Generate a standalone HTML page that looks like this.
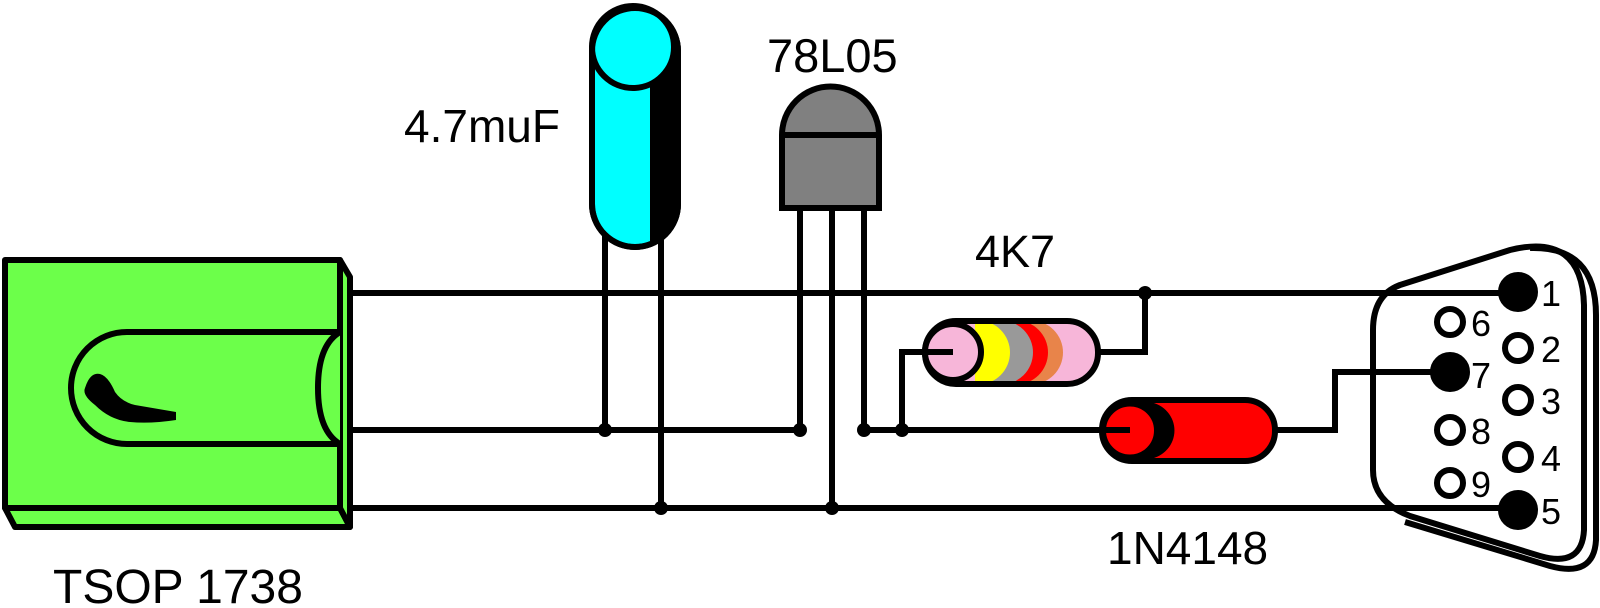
<!DOCTYPE html>
<html><head><meta charset="utf-8"><style>
html,body{margin:0;padding:0;background:#fff;}
svg{display:block;}
text{font-family:"Liberation Sans",Arial,sans-serif;fill:#000;}
</style></head><body>
<svg width="1600" height="608" viewBox="0 0 1600 608" xmlns="http://www.w3.org/2000/svg">
<defs>
<clipPath id="rclip"><rect x="925" y="321" width="173" height="63" rx="31" ry="31"/></clipPath>
</defs>
<g stroke="#000" stroke-width="6" fill="none">
<line x1="345" y1="293" x2="1518" y2="293"/>
<line x1="345" y1="430" x2="800" y2="430"/>
<line x1="864" y1="430" x2="1110" y2="430"/>
<line x1="345" y1="508" x2="1518" y2="508"/>
<line x1="605" y1="200" x2="605" y2="430"/>
<line x1="661" y1="200" x2="661" y2="508"/>
<line x1="800" y1="205" x2="800" y2="430"/>
<line x1="832" y1="205" x2="832" y2="508"/>
<line x1="864" y1="205" x2="864" y2="430"/>
<polyline points="953,352 902,352 902,430"/>
<polyline points="1098,352 1145,352 1145,293"/>
<polyline points="1275,430 1335,430 1335,372 1450,372"/>
</g>
<g stroke="#000" stroke-width="6" stroke-linejoin="round">
<polygon points="5,508 15,527 350,527 340,508" fill="#6cff4a"/>
<polygon points="340,260 350,277 350,527 340,508" fill="#6cff4a"/>
<rect x="5" y="260" width="335" height="248" fill="#6cff4a"/>
<path d="M340,332 L127,332 A56,56 0 0 0 127,444 L340,444" fill="#6cff4a"/>
<path d="M340,332 Q318,345 318,388 Q318,431 340,444" fill="none"/>
<path d="M85,388 Q90,372 100,374 Q108,376 115,392 Q122,402 135,405 L176,412 L176,420 Q150,424 130,422 Q110,420 95,405 Q82,395 85,388 Z" fill="#000" stroke="none"/>
</g>
<g stroke="#000" stroke-width="6">
<rect x="592" y="8" width="86" height="239" rx="43" ry="43" fill="#00ffff"/>
<path d="M650,47 L678,47 L678,204 A43,43 0 0 1 650,244 Z" fill="#000" stroke="none"/>
<ellipse cx="633" cy="47" rx="41" ry="41" fill="#00ffff"/>
<rect x="592" y="8" width="86" height="239" rx="43" ry="43" fill="none"/>
</g>
<g stroke="#000" stroke-width="6">
<path d="M782,135 A48,48 0 0 1 879,135 L879,208 L782,208 Z" fill="#808080"/>
<line x1="782" y1="135" x2="879" y2="135"/>
</g>
<g>
<rect x="925" y="321" width="173" height="63" rx="31" ry="31" fill="#f7b6d9"/>
<g clip-path="url(#rclip)">
<rect x="975" y="321" width="56" height="63" fill="#e8844a"/><circle cx="1031" cy="352.5" r="32" fill="#e8844a"/>
<rect x="975" y="321" width="41" height="63" fill="#ff0000"/><circle cx="1016" cy="352.5" r="32" fill="#ff0000"/>
<rect x="975" y="321" width="26" height="63" fill="#999"/><circle cx="1001" cy="352.5" r="32" fill="#999"/>
<rect x="975" y="321" width="3" height="63" fill="#ffff00"/><circle cx="978" cy="352.5" r="32" fill="#ffff00"/>
<rect x="925" y="321" width="50" height="63" fill="#f7b6d9"/>
</g>
<rect x="925" y="321" width="173" height="63" rx="31" ry="31" fill="none" stroke="#000" stroke-width="6"/>
<circle cx="953" cy="352" r="28" fill="#f7b6d9" stroke="#000" stroke-width="6"/>
<line x1="953" y1="352" x2="902" y2="352" stroke="#000" stroke-width="6"/>
</g>
<g>
<rect x="1102" y="400" width="173" height="61" rx="30" ry="30" fill="#ff0000" stroke="#000" stroke-width="6"/>
<path d="M1130,402 L1150,402 A30,29 0 0 1 1150,459 L1130,459 Z" fill="#000"/>
<circle cx="1130" cy="430.5" r="27" fill="#ff0000" stroke="#000" stroke-width="6"/>
<line x1="1130" y1="430" x2="1100" y2="430" stroke="#000" stroke-width="6"/>
</g>
<g fill="#000">
<circle cx="605" cy="430" r="7"/><circle cx="661" cy="508" r="7"/>
<circle cx="800" cy="430" r="7"/><circle cx="832" cy="508" r="7"/>
<circle cx="864" cy="430" r="7"/><circle cx="902" cy="430" r="7"/>
<circle cx="1145" cy="293" r="7"/>
</g>
<g fill="none" stroke="#000" stroke-width="6">
<path d="M1400,285 L1510,250 Q1582,232 1584,305 L1584,530 Q1582,568 1540,556 L1410,516 Q1373,502 1373,470 L1373,330 Q1373,295 1400,285 Z"/>
<path d="M1530,248 Q1596,246 1596,315 L1596,540 Q1594,578 1550,566 L1405,522"/>
</g>
<g stroke="#000" stroke-width="6">
<circle cx="1518" cy="292" r="17" fill="#000"/>
<circle cx="1518" cy="510" r="17" fill="#000"/>
<circle cx="1450" cy="372" r="17" fill="#000"/>
<circle cx="1450" cy="322" r="13" fill="#fff"/>
<circle cx="1518" cy="348" r="13" fill="#fff"/>
<circle cx="1518" cy="400" r="13" fill="#fff"/>
<circle cx="1450" cy="430" r="13" fill="#fff"/>
<circle cx="1518" cy="457" r="13" fill="#fff"/>
<circle cx="1450" cy="483" r="13" fill="#fff"/>
</g>
<g font-size="36">
<text x="1541" y="306">1</text>
<text x="1541" y="362">2</text>
<text x="1541" y="414">3</text>
<text x="1541" y="471">4</text>
<text x="1541" y="524">5</text>
<text x="1471" y="336">6</text>
<text x="1471" y="388">7</text>
<text x="1471" y="444">8</text>
<text x="1471" y="497">9</text>
</g>
<text x="404" y="142" font-size="46">4.7muF</text>
<text x="767" y="72" font-size="47">78L05</text>
<text x="975" y="267" font-size="45">4K7</text>
<text x="1107" y="564" font-size="46">1N4148</text>
<text x="53" y="603" font-size="48">TSOP 1738</text>
</svg>
</body></html>
